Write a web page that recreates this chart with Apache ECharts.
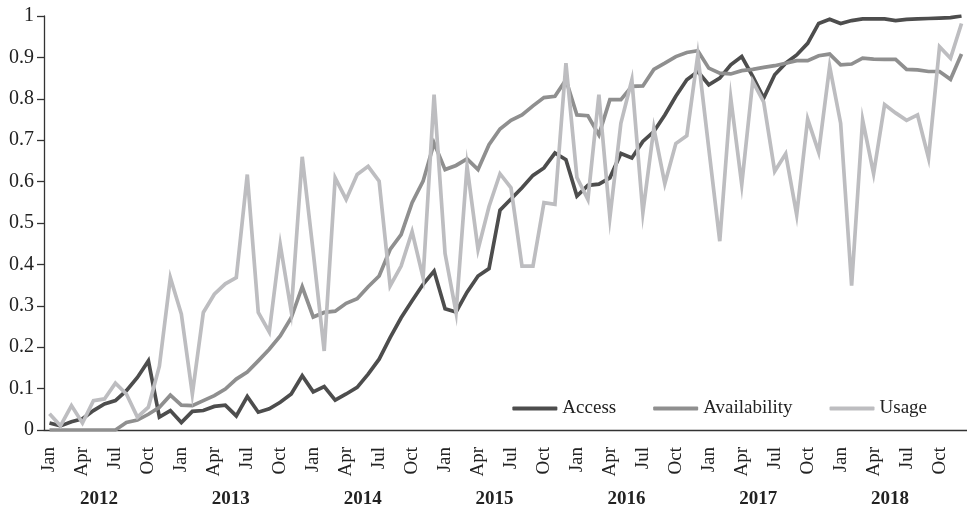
<!DOCTYPE html>
<html><head><meta charset="utf-8">
<script src="https://cdn.jsdelivr.net/npm/echarts@6/dist/echarts.min.js"></script>
<style>html,body{margin:0;padding:0;background:#fff}#c{width:967px;height:509px}</style>
</head><body><div id="c"></div><script>
const years = ['2012','2013','2014','2015','2016','2017','2018'];
const months = ['Jan','Feb','Mar','Apr','May','Jun','Jul','Aug','Sep','Oct','Nov','Dec'];
const yTicks = [0,0.1,0.2,0.3,0.4,0.5,0.6,0.7,0.8,0.9,1];

const access = [
 0.017,0.010,0.020,0.027,0.047,0.063,0.071,0.095,0.127,0.167,0.031,0.047,
 0.018,0.045,0.047,0.057,0.060,0.034,0.081,0.043,0.051,0.067,0.087,0.131,
 0.092,0.105,0.072,0.087,0.103,0.135,0.171,0.223,0.271,0.312,0.352,0.384,
 0.293,0.285,0.333,0.372,0.390,0.531,0.558,0.585,0.615,0.633,0.669,0.653,
 0.565,0.591,0.594,0.609,0.668,0.657,0.697,0.721,0.761,0.806,0.846,0.866,
 0.834,0.850,0.882,0.902,0.854,0.802,0.858,0.886,0.906,0.934,0.982,0.992,
 0.982,0.989,0.993,0.993,0.993,0.989,0.992,0.993,0.994,0.995,0.996,1.000
];
const availability = [
 0.000,0.000,0.000,0.000,0.000,0.000,0.000,0.018,0.024,0.038,0.055,0.084,
 0.060,0.059,0.071,0.083,0.099,0.123,0.140,0.167,0.195,0.227,0.271,0.346,
 0.273,0.284,0.287,0.306,0.317,0.346,0.372,0.436,0.472,0.549,0.601,0.693,
 0.629,0.639,0.655,0.629,0.689,0.727,0.748,0.761,0.783,0.803,0.806,0.846,
 0.761,0.759,0.713,0.798,0.798,0.830,0.831,0.871,0.886,0.902,0.912,0.916,
 0.874,0.862,0.860,0.868,0.871,0.876,0.880,0.886,0.892,0.892,0.904,0.908,
 0.882,0.884,0.898,0.896,0.895,0.895,0.871,0.870,0.866,0.866,0.847,0.908
];
const usage = [
 0.039,0.010,0.059,0.017,0.071,0.075,0.113,0.087,0.031,0.055,0.154,0.368,
 0.280,0.087,0.284,0.328,0.353,0.368,0.617,0.284,0.237,0.448,0.287,0.660,
 0.430,0.191,0.609,0.557,0.617,0.637,0.601,0.348,0.396,0.479,0.368,0.810,
 0.426,0.284,0.637,0.436,0.540,0.619,0.585,0.396,0.396,0.549,0.545,0.886,
 0.610,0.557,0.810,0.513,0.741,0.846,0.525,0.729,0.595,0.692,0.711,0.906,
 0.680,0.456,0.802,0.593,0.842,0.792,0.625,0.667,0.520,0.751,0.671,0.878,
 0.741,0.349,0.749,0.619,0.786,0.766,0.748,0.761,0.657,0.926,0.898,0.982
];

const categories = [];
years.forEach(y => months.forEach(m => categories.push(m + ' ' + y)));

const FONT = '"Liberation Serif", "DejaVu Serif", serif';
const INK = '#222';
const chart = echarts.init(document.getElementById('c'), null, {renderer: 'canvas'});
chart.setOption({
  animation: false,
  backgroundColor: '#fff',
  grid: {left: 44, right: -3, top: 16, bottom: 78, containLabel: false},
  legend: {
    right: 35, top: 394, orient: 'horizontal',
    icon: 'roundRect', itemWidth: 45, itemHeight: 4, itemGap: 37,
    textStyle: {fontFamily: FONT, fontSize: 19, color: INK},
    data: ['Access', 'Availability', 'Usage']
  },
  xAxis: [{
    type: 'category', data: categories, boundaryGap: true,
    axisLine: {lineStyle: {color: '#333', width: 1.3}},
    axisTick: {alignWithLabel: true, interval: 2, length: 6, lineStyle: {color: '#333', width: 1.3}},
    axisLabel: {interval: 2, rotate: 90, margin: 17, color: INK, fontFamily: FONT, fontSize: 19,
      formatter: v => v.split(' ')[0]},
    splitLine: {show: false}
  }, {
    type: 'category', data: categories, boundaryGap: true, position: 'bottom', offset: 0,
    axisLine: {show: false}, axisTick: {show: false}, splitLine: {show: false},
    axisLabel: {interval: (i) => i % 12 === 4, margin: 60, padding: [0, 0, 0, 11],
      color: INK, fontFamily: FONT, fontSize: 19, fontWeight: 'bold',
      formatter: v => v.split(' ')[1]}
  }],
  yAxis: {
    type: 'value', min: yTicks[0], max: yTicks[yTicks.length - 1], interval: 0.1,
    axisLine: {show: true, lineStyle: {color: '#333', width: 1.3}},
    axisTick: {show: true, length: 7, lineStyle: {color: '#333', width: 1.3}},
    axisLabel: {margin: 10, color: INK, fontFamily: FONT, fontSize: 20,
      formatter: v => String(Math.round(v * 10) / 10)},
    splitLine: {show: false}
  },
  series: [
    {name: 'Access', type: 'line', data: access, symbol: 'none', xAxisIndex: 0,
     lineStyle: {color: '#4d4d4d', width: 3.7, join: 'miter'}, itemStyle: {color: '#4d4d4d'}},
    {name: 'Availability', type: 'line', data: availability, symbol: 'none', xAxisIndex: 0,
     lineStyle: {color: '#8f8f8f', width: 3.7, join: 'miter'}, itemStyle: {color: '#8f8f8f'}},
    {name: 'Usage', type: 'line', data: usage, symbol: 'none', xAxisIndex: 0,
     lineStyle: {color: '#bdbdc0', width: 3.7, join: 'miter'}, itemStyle: {color: '#bdbdc0'}}
  ]
});
</script></body></html>
